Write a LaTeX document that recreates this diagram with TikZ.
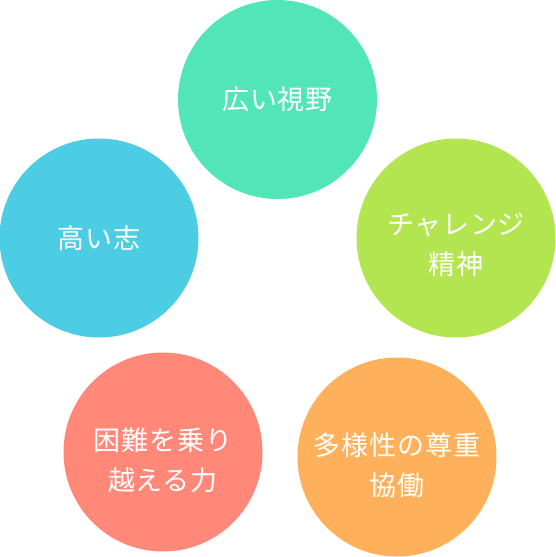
\documentclass[tikz,border=0pt]{standalone}
\usepackage{fontspec}
\newfontfamily\jpfont[LetterSpace=3]{Noto Sans CJK JP}
\definecolor{wideGreen}{HTML}{52E5B7}
\definecolor{aimBlue}{HTML}{4DCDE3}
\definecolor{spiritLime}{HTML}{B3E550}
\definecolor{powerRed}{HTML}{FF8878}
\definecolor{teamOrange}{HTML}{FFB05A}

\begin{document}
\begin{tikzpicture}[x=1pt, y=-1pt,
  bubble/.style={circle, minimum size=199pt, inner sep=0pt},
  words/.style={text=white, align=center, inner sep=0pt,
    font=\jpfont\fontsize{27}{40}\selectfont}]
\useasboundingbox (0, 0) rectangle (555, 557);

\node[bubble, fill=wideGreen] (wide) at (277.5, 99.5) {};
\node[bubble, fill=aimBlue] (aim) at (99, 238) {};
\node[bubble, fill=spiritLime] (spirit) at (456, 238) {};
\node[bubble, fill=powerRed] (power) at (163, 452) {};
\node[bubble, fill=teamOrange] (team) at (397, 457) {};

\node[words] (wideText) at (wide) {広い視野};
\node[words] (aimText) at (aim) {高い志};
\node[words] (spiritText) at ([yshift=-7pt]spirit) {チャレンジ\\精神};
\node[words] (powerText) at ([yshift=-8pt]power) {困難を乗り\\越える力};
\node[words] (teamText) at ([yshift=-8pt]team) {多様性の尊重\\協働};

\end{tikzpicture}
\end{document}
